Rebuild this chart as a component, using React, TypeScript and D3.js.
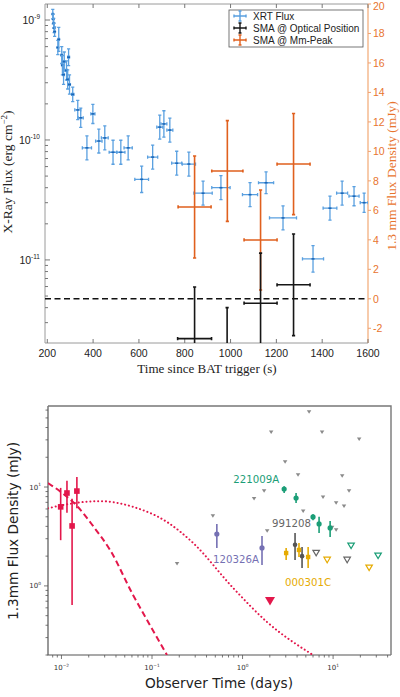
import { useEffect, useRef } from "react";
import * as d3 from "d3";

// ---------- upper panel: XRT flux (left axis) + SMA 1.3 mm (right axis) ----------
const xrtTime = [224, 226, 228, 230, 232, 246, 250, 263, 266, 271, 274, 284, 289, 293, 297, 311, 333, 346, 373, 399, 425, 451, 487, 521, 553, 612, 660, 691, 709, 735, 765, 818, 880, 958, 1085, 1155, 1229, 1360, 1434, 1487, 1539, 1583];
const xrtTimeErr = [2, 2, 2, 2, 2, 3, 3, 3, 3, 3, 3, 4, 4, 4, 4, 5, 13, 11, 20, 9, 14, 15, 17, 18, 18, 30, 22, 13, 13, 13, 22, 29, 40, 40, 33, 33, 59, 46, 30, 24, 22, 17];
const xrtFlux = [1.12e-9, 1.02e-9, 9.4e-10, 8.6e-10, 8.0e-10, 5.9e-10, 6.9e-10, 5.1e-10, 4.2e-10, 3.5e-10, 4.5e-10, 3.8e-10, 3.2e-10, 4.9e-10, 2.9e-10, 2.4e-10, 1.78e-10, 1.53e-10, 8.6e-11, 1.65e-10, 9.8e-11, 1.04e-10, 7.9e-11, 7.9e-11, 8.6e-11, 4.7e-11, 7.2e-11, 1.28e-10, 1.36e-10, 1.21e-10, 6.4e-11, 6.3e-11, 3.6e-11, 4.0e-11, 3.5e-11, 4.4e-11, 2.24e-11, 1.02e-11, 2.7e-11, 3.6e-11, 3.4e-11, 3.0e-11];
const xrtDexErr = [0.04, 0.04, 0.04, 0.04, 0.04, 0.06, 0.1, 0.07, 0.08, 0.08, 0.08, 0.08, 0.08, 0.07, 0.08, 0.06, 0.08, 0.08, 0.1, 0.08, 0.1, 0.1, 0.1, 0.1, 0.1, 0.11, 0.1, 0.1, 0.11, 0.1, 0.1, 0.1, 0.1, 0.1, 0.1, 0.09, 0.1, 0.11, 0.1, 0.1, 0.08, 0.08];

const smaOptTime = [843, 985, 1131, 1275];
const smaOptTimeErr = [74, 70, 72, 72];
const smaOptFlux = [-2.7, -4.6, -0.3, 0.95];
const smaOptErr = [3.5, 4.0, 3.4, 3.45];

const smaPeakTime = [843, 986, 1131, 1275];
const smaPeakTimeErr = [72, 68, 72, 72];
const smaPeakFlux = [6.23, 8.67, 3.99, 9.14];
const smaPeakErr = [3.46, 3.42, 3.39, 3.43];

const topXTicks = [200, 400, 600, 800, 1000, 1200, 1400, 1600];
const topRightTicks = [-2, 0, 2, 4, 6, 8, 10, 12, 14, 16, 18, 20];
const topLeftExps = [-11, -10, -9];

// ---------- lower panel: 1.3 mm light curves ----------
const redTime = [0.0098, 0.0115, 0.0131, 0.0148];
const redFlux = [6.3, 8.7, 4.04, 9.1];
const redLo = [2.9, 5.5, 0.64, 6.1];
const redHi = [9.8, 11.6, 7.6, 12.6];
const redLimTime = [2.01];
const redLimFlux = [0.7];

// model curves
const dashTime = [0.0071, 0.00987, 0.0152, 0.0223, 0.0344, 0.0617, 0.095, 0.1465];
const dashFlux = [10.97, 8.9, 6.28, 4.04, 2.31, 0.81, 0.4, 0.2];
const dotTime = [0.0071, 0.0173, 0.0266, 0.0617, 0.1465, 0.284, 0.785, 1.87, 6.0];
const dotFlux = [6.1, 7.05, 7.2, 6.3, 4.43, 2.72, 0.955, 0.43, 0.2];

const limTime = [5.43, 2.07, 7.55, 19.4, 2.95, 4.1, 12.6, 1.73, 15.0, 1.34, 7.74, 10.8, 13.2, 4.67, 0.47, 1.87, 9.75, 10.8, 0.189];
const limFlux = [57.3, 35.9, 35.9, 30.5, 17.9, 13.2, 12.9, 9.1, 9.1, 7.6, 7.9, 6.9, 6.4, 5.7, 5.1, 3.6, 3.9, 3.68, 1.67];
const grayOpenTime = [6.5, 14.3];
const grayOpenFlux = [2.15, 1.83];

const greenTime = [2.88, 3.9, 6.0, 7.0, 9.27];
const greenFlux = [9.55, 7.74, 4.98, 4.23, 3.86];
const greenLo = [8.7, 6.9, 4.6, 3.43, 3.13];
const greenHi = [10.2, 8.7, 5.3, 5.0, 4.54];
const greenOpenTime = [15.8, 31.4];
const greenOpenFlux = [2.54, 2.01];

const greyTime = [3.8, 4.54];
const greyFlux = [2.6, 2.0];
const greyLo = [1.83, 1.52];
const greyHi = [3.43, 2.47];

const purpleTime = [0.52, 1.64];
const purpleFlux = [3.35, 2.42];
const purpleLo = [2.42, 1.63];
const purpleHi = [4.23, 3.2];

const yellowTime = [3.03, 4.2, 5.3];
const yellowFlux = [2.15, 2.31, 1.96];
const yellowLo = [1.83, 1.96, 1.52];
const yellowHi = [2.42, 2.72, 2.47];
const yellowOpenTime = [8.6, 25.0];
const yellowOpenFlux = [1.83, 1.52];

const grbNames = ["221009A", "991208", "120326A", "000301C"];
const grbColors = ["#1b9e77", "#666666", "#7570b3", "#e6ab02"];
const grbLabelTime = [0.79, 2.12, 0.472, 2.95];
const grbLabelFlux = [11.0, 3.95, 1.71, 1.0];

const RED = "#e3174b";
const ORANGE = "#e0601e";
const BLUE = "#5aa0e0";
const SANS = "Liberation Sans, Arial, sans-serif";
const SERIF = "Liberation Serif, Times New Roman, serif";
const DEJA = "DejaVu Sans, sans-serif";

type Sel = d3.Selection<any, unknown, null, undefined>;

const powText = (g: Sel, x: number, y: number, exp: string, size: number, anchor: string, fill: string, font: string) => {
  const t = g.append("text").attr("x", x).attr("y", y).attr("text-anchor", anchor)
    .attr("font-family", font).attr("font-size", size).attr("fill", fill);
  t.append("tspan").text("10");
  t.append("tspan").attr("dy", -size * 0.45).attr("font-size", size * 0.62).text(exp);
};

const downTri = (cx: number, cy: number, w: number, h: number) =>
  `M${cx - w / 2},${cy - h / 2}L${cx + w / 2},${cy - h / 2}L${cx},${cy + h / 2}Z`;

function drawTop(svg: Sel) {
  const T = { l: 45, r: 368, t: 4, b: 343 };
  const x = d3.scaleLinear().domain([190, 1600]).range([T.l, T.r]);
  const yX = d3.scaleLog().domain([2.03e-12, 1.36e-9]).range([T.b, T.t]);
  const yS = d3.scaleLinear().domain([-3, 20]).range([T.b, T.t]);

  svg.append("clipPath").attr("id", "clip-top").append("rect")
    .attr("x", T.l).attr("y", T.t).attr("width", T.r - T.l).attr("height", T.b - T.t);

  const g = svg.append("g");

  // frame
  g.append("path").attr("d", `M${T.r},${T.t}H${T.l}V${T.b}H${T.r}`)
    .attr("fill", "none").attr("stroke", "#9a9a9a").attr("stroke-width", 1);
  g.append("line").attr("x1", T.r).attr("x2", T.r).attr("y1", T.t).attr("y2", T.b)
    .attr("stroke", "#f2a874").attr("stroke-width", 1.2);

  // x ticks
  topXTicks.forEach((v) => {
    g.append("line").attr("x1", x(v)).attr("x2", x(v)).attr("y1", T.b).attr("y2", T.b - 4).attr("stroke", "#777");
    g.append("line").attr("x1", x(v)).attr("x2", x(v)).attr("y1", T.t).attr("y2", T.t + 4).attr("stroke", "#777");
    g.append("text").attr("x", x(v)).attr("y", 357).attr("text-anchor", "middle")
      .attr("font-family", SANS).attr("font-size", 10.5).attr("fill", "#222").text(v);
  });

  // left log ticks
  for (let e = -12; e <= -9; e++) {
    for (let k = 1; k <= 9; k++) {
      const v = k * Math.pow(10, e);
      if (v < 2.03e-12 || v > 1.36e-9) continue;
      g.append("line").attr("x1", T.l).attr("x2", T.l + (k === 1 ? 5 : 3))
        .attr("y1", yX(v)).attr("y2", yX(v)).attr("stroke", "#777");
    }
  }
  topLeftExps.forEach((e) => powText(g, 40, yX(Math.pow(10, e)) + 4, String(e), 10.5, "end", "#222", SANS));

  // right linear ticks
  topRightTicks.forEach((v) => {
    g.append("line").attr("x1", T.r).attr("x2", T.r + 3).attr("y1", yS(v)).attr("y2", yS(v)).attr("stroke", "#f0a070");
    g.append("text").attr("x", 373).attr("y", Math.max(yS(v) + 4, 9.5)).attr("font-family", SANS).attr("font-size", 10.5)
      .attr("fill", "#e8742e").text(v);
  });

  // axis titles
  g.append("text").attr("x", 207).attr("y", 373).attr("text-anchor", "middle")
    .attr("font-family", SERIF).attr("font-size", 13).attr("fill", "#222").text("Time since BAT trigger (s)");
  const lt = g.append("text").attr("transform", "translate(12,172) rotate(-90)").attr("text-anchor", "middle")
    .attr("font-family", SERIF).attr("font-size", 13.5).attr("fill", "#222");
  lt.append("tspan").text("X-Ray Flux (erg cm");
  lt.append("tspan").attr("dy", -5).attr("font-size", 9).text("−2");
  lt.append("tspan").attr("dy", 5).text(")");
  g.append("text").attr("transform", "translate(396,176) rotate(-90)").attr("text-anchor", "middle")
    .attr("font-family", SERIF).attr("font-size", 13.5).attr("fill", "#e8742e").text("1.3 mm Flux Density (mJy)");

  const data = g.append("g").attr("clip-path", "url(#clip-top)");

  // zero line for the mm axis
  data.append("line").attr("x1", T.l).attr("x2", T.r).attr("y1", yS(0)).attr("y2", yS(0))
    .attr("stroke", "#111").attr("stroke-width", 1.4).attr("stroke-dasharray", "6,3.5");

  const cross = (xc: number, yc: number, x0: number, x1: number, y0: number, y1: number, color: string, w: number, cap: number) => {
    const p = d3.path();
    p.moveTo(x0, yc); p.lineTo(x1, yc);
    p.moveTo(xc, y0); p.lineTo(xc, y1);
    p.moveTo(x0, yc - cap); p.lineTo(x0, yc + cap);
    p.moveTo(x1, yc - cap); p.lineTo(x1, yc + cap);
    p.moveTo(xc - cap, y0); p.lineTo(xc + cap, y0);
    p.moveTo(xc - cap, y1); p.lineTo(xc + cap, y1);
    data.append("path").attr("d", p.toString()).attr("fill", "none").attr("stroke", color).attr("stroke-width", w);
  };

  xrtTime.forEach((t, i) => {
    const f = xrtFlux[i];
    const d = Math.pow(10, xrtDexErr[i]);
    cross(x(t), yX(f), x(t - xrtTimeErr[i]), x(t + xrtTimeErr[i]), yX(f * d), yX(f / d), BLUE, 1.3, 1.6);
    data.append("line").attr("x1", x(t) - 1.5).attr("x2", x(t) + 1.5).attr("y1", yX(f)).attr("y2", yX(f))
      .attr("stroke", "#1a66b8").attr("stroke-width", 1.6);
  });

  smaPeakTime.forEach((t, i) => {
    const v = smaPeakFlux[i];
    cross(x(t), yS(v), x(t - smaPeakTimeErr[i]), x(t + smaPeakTimeErr[i]), yS(v + smaPeakErr[i]), yS(v - smaPeakErr[i]), ORANGE, 1.6, 1.6);
  });
  smaOptTime.forEach((t, i) => {
    const v = smaOptFlux[i];
    cross(x(t), yS(v), x(t - smaOptTimeErr[i]), x(t + smaOptTimeErr[i]), yS(v + smaOptErr[i]), yS(v - smaOptErr[i]), "#161616", 1.6, 1.6);
  });

  // legend
  const lg = g.append("g");
  lg.append("rect").attr("x", 229).attr("y", 10).attr("width", 134).attr("height", 37)
    .attr("fill", "#fff").attr("stroke", "#555").attr("stroke-width", 0.8);
  const legItems = ["XRT Flux", "SMA @ Optical Position", "SMA @ Mm-Peak"];
  const legColors = [BLUE, "#161616", ORANGE];
  legItems.forEach((name, i) => {
    const yy = 16 + i * 12;
    const c = legColors[i];
    const p = d3.path();
    p.moveTo(234, yy); p.lineTo(246, yy);
    p.moveTo(240, yy - 5); p.lineTo(240, yy + 5);
    p.moveTo(234, yy - 1.5); p.lineTo(234, yy + 1.5);
    p.moveTo(246, yy - 1.5); p.lineTo(246, yy + 1.5);
    p.moveTo(238.5, yy - 5); p.lineTo(241.5, yy - 5);
    p.moveTo(238.5, yy + 5); p.lineTo(241.5, yy + 5);
    lg.append("path").attr("d", p.toString()).attr("fill", "none").attr("stroke", c).attr("stroke-width", 1.4);
    lg.append("text").attr("x", 253).attr("y", yy + 3.5).attr("font-family", SANS).attr("font-size", 10)
      .attr("fill", "#222").text(name);
  });
}

function drawBottom(svg: Sel) {
  const B = { l: 48, r: 391, t: 406, b: 655 };
  const x = d3.scaleLog().domain([0.0071, 43.6]).range([B.l, B.r]);
  const y = d3.scaleLog().domain([0.2, 66]).range([B.b, B.t]);

  svg.append("clipPath").attr("id", "clip-bot").append("rect")
    .attr("x", B.l).attr("y", B.t).attr("width", B.r - B.l).attr("height", B.b - B.t);

  const g = svg.append("g");

  // ticks
  for (let e = -3; e <= 1; e++) {
    for (let k = 1; k <= 9; k++) {
      const v = k * Math.pow(10, e);
      if (v < 0.0071 || v > 43.6) continue;
      g.append("line").attr("x1", x(v)).attr("x2", x(v)).attr("y1", B.b).attr("y2", B.b + (k === 1 ? 4 : 2.5))
        .attr("stroke", "#555").attr("stroke-width", 0.8);
      if (k === 1) powText(g, x(v), 670, e < 0 ? `−${-e}` : String(e), 7, "middle", "#333", DEJA);
    }
  }
  for (let e = -1; e <= 1; e++) {
    for (let k = 1; k <= 9; k++) {
      const v = k * Math.pow(10, e);
      if (v < 0.2 || v > 66) continue;
      g.append("line").attr("x1", B.l).attr("x2", B.l - (k === 1 ? 4 : 2.5)).attr("y1", y(v)).attr("y2", y(v))
        .attr("stroke", "#555").attr("stroke-width", 0.8);
      if (k === 1) powText(g, 41, y(v) + 2.5, String(e), 7, "end", "#333", DEJA);
    }
  }

  // frame
  g.append("path").attr("d", `M${B.l},${B.t}V${B.b}H${B.r}`).attr("fill", "none").attr("stroke", "#555").attr("stroke-width", 1.2);
  g.append("path").attr("d", `M${B.l},${B.t}H${B.r}V${B.b}`).attr("fill", "none").attr("stroke", "#777").attr("stroke-width", 1.4);

  g.append("text").attr("x", 219).attr("y", 688).attr("text-anchor", "middle")
    .attr("font-family", DEJA).attr("font-size", 13.7).attr("fill", "#222").text("Observer Time (days)");
  g.append("text").attr("transform", "translate(18,531) rotate(-90)").attr("text-anchor", "middle")
    .attr("font-family", DEJA).attr("font-size", 13.7).attr("fill", "#222").text("1.3mm Flux Density (mJy)");

  const data = g.append("g").attr("clip-path", "url(#clip-bot)");

  const line = d3.line<number>().curve(d3.curveMonotoneX);
  data.append("path")
    .attr("d", line(dashTime.map((t, i) => [x(t), y(dashFlux[i])]) as any))
    .attr("fill", "none").attr("stroke", RED).attr("stroke-width", 2).attr("stroke-dasharray", "6,3.5");
  data.append("path")
    .attr("d", line(dotTime.map((t, i) => [x(t), y(dotFlux[i])]) as any))
    .attr("fill", "none").attr("stroke", RED).attr("stroke-width", 2).attr("stroke-linecap", "round")
    .attr("stroke-dasharray", "0.1,3.8");

  // upper limits (gray)
  limTime.forEach((t, i) => {
    data.append("path").attr("d", downTri(x(t), y(limFlux[i]), 4.5, 3.5)).attr("fill", "#8a8a8a");
  });

  const openTris = (ts: number[], fs: number[], c: string) => ts.forEach((t, i) => {
    data.append("path").attr("d", downTri(x(t), y(fs[i]), 6.5, 5.5)).attr("fill", "#fff")
      .attr("stroke", c).attr("stroke-width", 1.2);
  });
  openTris(grayOpenTime, grayOpenFlux, "#666");
  openTris(greenOpenTime, greenOpenFlux, "#1b9e77");
  openTris(yellowOpenTime, yellowOpenFlux, "#e6ab02");

  const errPts = (ts: number[], fs: number[], lo: number[], hi: number[], c: string, shape: string, sz: number) =>
    ts.forEach((t, i) => {
      data.append("line").attr("x1", x(t)).attr("x2", x(t)).attr("y1", y(lo[i])).attr("y2", y(hi[i]))
        .attr("stroke", c).attr("stroke-width", 1.6);
      if (shape === "circle") {
        data.append("circle").attr("cx", x(t)).attr("cy", y(fs[i])).attr("r", sz).attr("fill", c);
      } else {
        data.append("rect").attr("x", x(t) - sz).attr("y", y(fs[i]) - sz).attr("width", sz * 2).attr("height", sz * 2).attr("fill", c);
      }
    });
  errPts(purpleTime, purpleFlux, purpleLo, purpleHi, "#7570b3", "circle", 2.6);
  errPts(greyTime, greyFlux, greyLo, greyHi, "#555", "circle", 2.3);
  errPts(yellowTime, yellowFlux, yellowLo, yellowHi, "#e6ab02", "square", 2.2);
  errPts(greenTime, greenFlux, greenLo, greenHi, "#1b9e77", "circle", 2.6);
  errPts(redTime, redFlux, redLo, redHi, RED, "square", 2.8);

  redLimTime.forEach((t, i) => {
    data.append("path").attr("d", downTri(x(t), y(redLimFlux[i]), 10, 8.5)).attr("fill", RED);
  });

  grbNames.forEach((n, i) => {
    g.append("text").attr("x", x(grbLabelTime[i])).attr("y", y(grbLabelFlux[i]))
      .attr("font-family", DEJA).attr("font-size", 10.2).attr("fill", grbColors[i]).text(n);
  });
}

export default function App() {
  const svgRef = useRef<SVGSVGElement | null>(null);

  useEffect(() => {
    if (!svgRef.current) return;
    const svg = d3.select(svgRef.current);
    svg.selectAll("*").remove();
    drawTop(svg as any);
    drawBottom(svg as any);
  }, []);

  return (
    <svg
      ref={svgRef}
      width={400}
      height={697}
      style={{ position: "absolute", left: 0, top: 0, background: "#fff" }}
    />
  );
}
